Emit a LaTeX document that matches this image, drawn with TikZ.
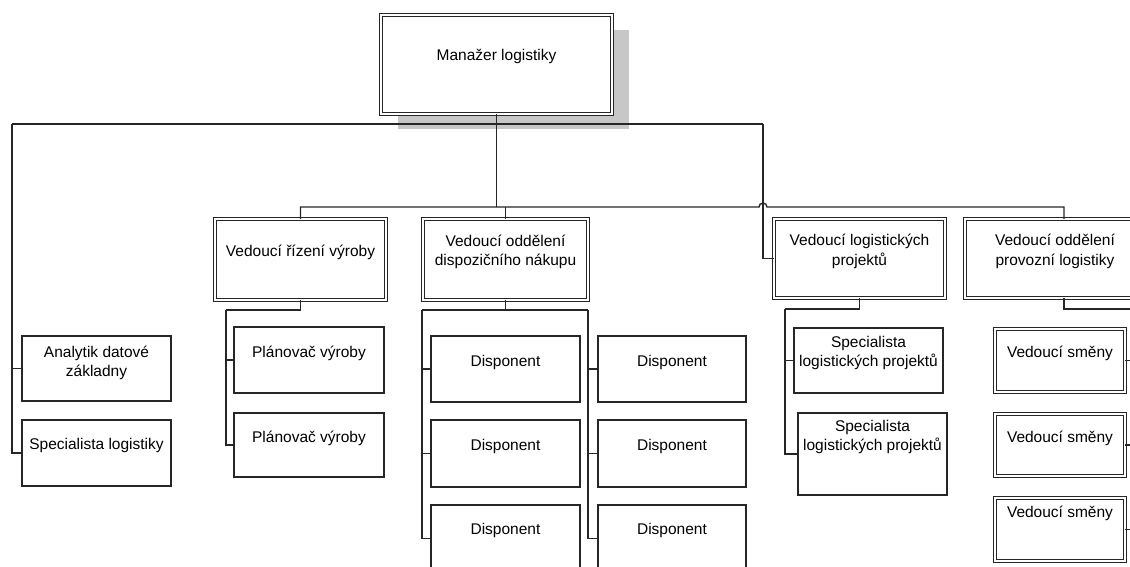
\documentclass[tikz,border=0pt]{standalone}
\usepackage{fontspec}
\setmainfont{Liberation Sans}
\usetikzlibrary{shadows}

\begin{document}
\begin{tikzpicture}[
    x=1pt, y=-1pt,
    every node/.style={font=\fontsize{15.5}{19.5}\selectfont},
    unit/.style={draw=black!85, line width=1.3pt, fill=white, align=center, anchor=north west,
      inner sep=2pt, outer sep=0pt, text height=11pt, text depth=#1},
    unit/.default=18pt,
    head/.style={unit=#1, double, double distance=2.2pt, line width=0.9pt},
    head/.default=18pt,
    two/.style={text height=30.5pt},
    link/.style={draw=black!85, line width=1.4pt}
  ]
  \useasboundingbox (0,0) rectangle (1130,567);
  \clip (0,0) rectangle (1130,567);

  \node[head, minimum width=231pt, minimum height=99pt,
    general shadow={fill=black!22, shadow xshift=17pt, shadow yshift=-15pt}] (mgr) at (381,15) {Manažer logistiky};

  \node[head, minimum width=171pt, minimum height=81pt] (vyr) at (215,219) {Vedoucí řízení výroby};
  \node[head=18.5pt, two, minimum width=165pt, minimum height=81pt] (nak) at (423,219) {Vedoucí oddělení\\dispozičního nákupu};
  \node[head=17.5pt, two, minimum width=171pt, minimum height=79pt] (prj) at (774,219) {Vedoucí logistických\\projektů};
  \node[head=17.5pt, two, minimum width=180pt, minimum height=79pt] (prv) at (965,219) {Vedoucí oddělení\\provozní logistiky};

  \node[unit=14.5pt, two, minimum width=149pt, minimum height=65pt] (ana) at (22,336) {Analytik datové\\základny};
  \node[unit=19pt, minimum width=149pt, minimum height=66pt] (spl) at (22,420) {Specialista logistiky};

  \node[unit=17pt, minimum width=150pt, minimum height=66pt] (pv1) at (234,327) {Plánovač výroby};
  \node[unit=16pt, minimum width=150pt, minimum height=64pt] (pv2) at (234,413) {Plánovač výroby};

  \node[unit=17pt, minimum width=149pt, minimum height=66pt] (d1) at (431,336) {Disponent};
  \node[unit=18pt, minimum width=149pt, minimum height=67pt] (d2) at (431,420) {Disponent};
  \node[unit=19pt, minimum width=149pt, minimum height=67pt] (d3) at (431,505) {Disponent};
  \node[unit=17pt, minimum width=148pt, minimum height=66pt] (d4) at (598,336) {Disponent};
  \node[unit=18pt, minimum width=148pt, minimum height=67pt] (d5) at (598,420) {Disponent};
  \node[unit=19pt, minimum width=148pt, minimum height=67pt] (d6) at (598,505) {Disponent};

  \node[unit=18.5pt, two, minimum width=149pt, minimum height=65pt] (sp1) at (794,328) {Specialista\\logistických projektů};
  \node[unit=37.5pt, two, minimum width=149pt, minimum height=82pt] (sp2) at (798,413) {Specialista\\logistických projektů};

  \node[head, minimum width=130pt, minimum height=63pt] (sm1) at (995,329) {Vedoucí směny};
  \node[head=17pt, minimum width=130pt, minimum height=62pt] (sm2) at (995,414) {Vedoucí směny};
  \node[head=36pt, minimum width=130pt, minimum height=63pt] (sm3) at (995,498) {Vedoucí směny};

  \coordinate (busL) at (12,124);
  \coordinate (busR) at (763,124);
  \coordinate (bus2) at (0,207);
  \coordinate (vyrbus) at (226,310);
  \coordinate (nakL) at (422,310);
  \coordinate (nakR) at (588,310);
  \coordinate (prjbus) at (785,309);
  \coordinate (prvbus) at (1134,309);

  \draw[link] (busL) -- (busR);
  \draw[link] (busL) |- (ana.west);
  \draw[link] (busL) |- (spl.west);
  \draw[link] (busR) |- (prj.west);
  \draw[link] (mgr.south) -- (mgr.south |- bus2);
  \draw[link] (vyr.north) |- (759,207) arc[start angle=180, end angle=0, radius=4pt] -| ([xshift=9pt]prv.north);
  \draw[link] (nak.north) -- (nak.north |- bus2);

  \draw[link] (vyr.south) |- (vyrbus);
  \draw[link] (vyrbus) |- (pv1.west);
  \draw[link] (vyrbus) |- (pv2.west);

  \draw[link] (nak.south) -- (nak.south |- nakL);
  \draw[link] (nakL) -- (nakR);
  \draw[link] (nakL) |- (d1.west);
  \draw[link] (nakL) |- (d2.west);
  \draw[link] (nakL) |- (d3.west);
  \draw[link] (nakR) |- (d4.west);
  \draw[link] (nakR) |- (d5.west);
  \draw[link] (nakR) |- (d6.west);

  \draw[link] (prj.south) |- (prjbus);
  \draw[link] (prjbus) |- (sp1.west);
  \draw[link] (prjbus) |- (sp2.west);

  \draw[link] ([xshift=9pt]prv.south) |- (prvbus);
  \draw[link] (prvbus) |- (sm1.east);
  \draw[link] (prvbus) |- (sm2.east);
  \draw[link] (prvbus) |- (sm3.east);
\end{tikzpicture}
\end{document}
